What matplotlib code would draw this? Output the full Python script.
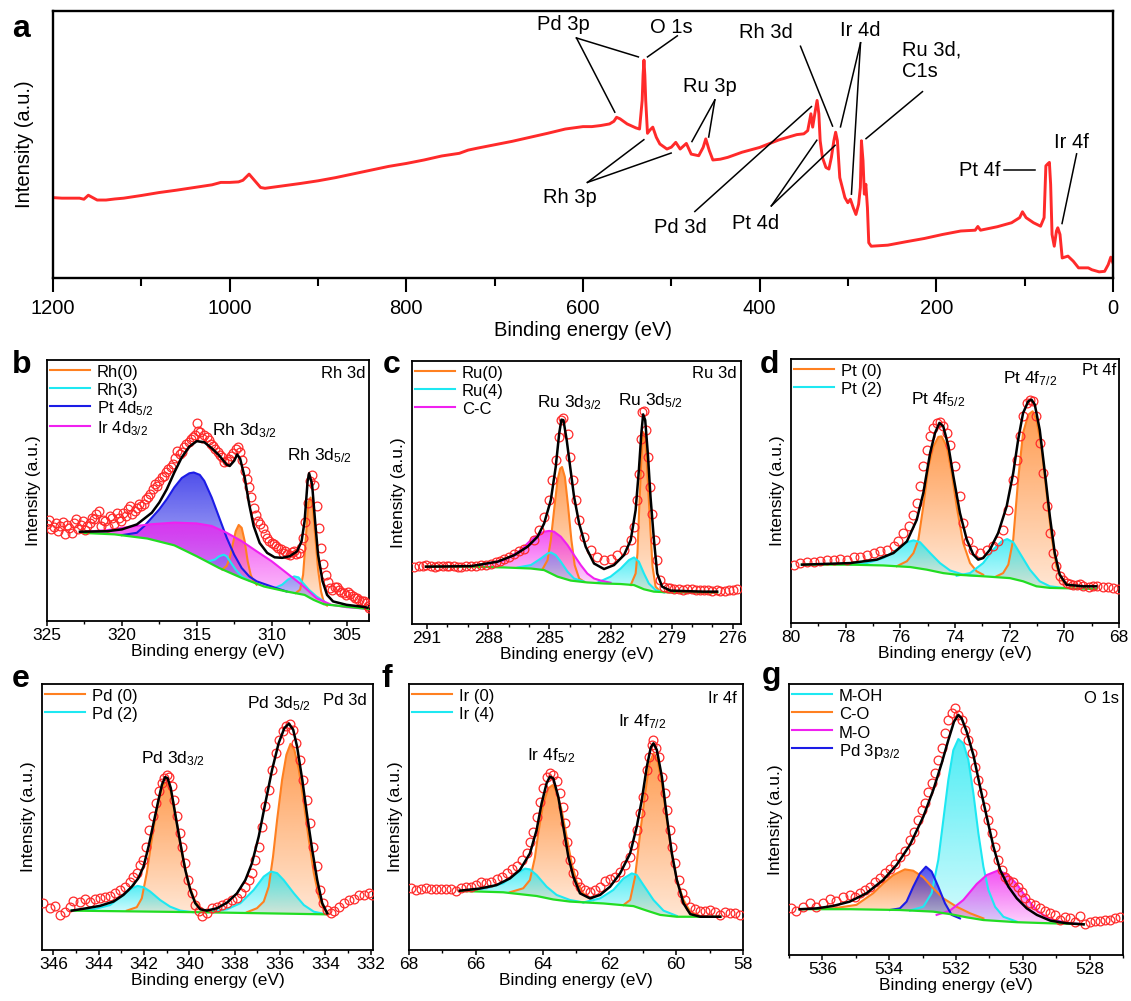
import numpy as np
import matplotlib
matplotlib.use('Agg')
import matplotlib.pyplot as plt
from matplotlib.patches import Polygon
from matplotlib.colors import to_rgb
from matplotlib.ticker import MultipleLocator

plt.rcParams['font.family'] = ['Liberation Sans', 'DejaVu Sans']
plt.rcParams['mathtext.default'] = 'regular'

# ---------------- Panel a: survey spectrum (binding energy eV, intensity a.u.) ----------------
a_survey = [(1200, 30.1), (1190, 29.9), (1180, 29.9), (1170, 29.9), (1165, 29.5), (1160, 31.0), (1155, 30.1),
            (1150, 29.2), (1140, 29.2), (1130, 29.6), (1120, 29.9), (1100, 30.9), (1080, 32.0), (1060, 32.9),
            (1040, 33.9), (1020, 34.9), (1010, 35.8), (1000, 35.8), (990, 36.0), (985, 36.6), (978, 38.9),
            (970, 35.8), (965, 33.9), (960, 33.6), (940, 34.5), (920, 35.4), (900, 36.4), (880, 37.6),
            (860, 39.0), (840, 40.4), (820, 41.8), (800, 42.9), (780, 44.2), (760, 45.7), (740, 46.7),
            (730, 47.9), (720, 48.6), (700, 49.9), (680, 51.2), (660, 52.7), (640, 54.2), (620, 55.8),
            (600, 56.7), (590, 56.7), (580, 57.1), (570, 57.7), (565, 58.7), (562, 60.2), (558, 59.6),
            (550, 57.7), (540, 56.2), (536, 55.8), (533, 66.5), (532, 76.0), (531, 81.6), (530, 76.0),
            (529, 66.5), (527, 54.2), (524, 55.5), (521, 56.5), (517, 52.7), (513, 50.2), (505, 48.3),
            (500, 49.0), (495, 50.8), (490, 48.3), (483, 50.4), (477.5, 46.4), (469, 45.8), (464, 48.9),
            (461, 52.1), (457, 47.7), (453, 44.2), (444.5, 44.5), (436, 45.2), (420, 47.1), (400, 48.9),
            (378.5, 51.7), (358, 53.7), (350, 54.0), (345.6, 55.2), (342, 61.5), (340, 56.5), (337, 62.7),
            (335, 66.5), (333, 61.5), (331.5, 51.4), (329, 45.2), (325, 41.4), (321.6, 40.8), (318.8, 45.2),
            (316, 51.4), (314, 54.6), (312, 51.4), (309.3, 37.6), (306.5, 33.9), (303.5, 30.1), (300.2, 28.2),
            (297.3, 29.5), (294, 26.3), (291, 23.8), (288, 27.6), (286, 33.9), (284.8, 51.4), (283, 43.9),
            (281.5, 31.4), (279.8, 35.1), (278, 26.3), (276.5, 13.2), (273.7, 11.9), (255, 12.3), (234, 13.6),
            (213.6, 14.8), (193, 16.3), (172.4, 17.6), (156, 17.9), (153, 19.3), (150, 17.9), (131, 19.2),
            (114.8, 20.7), (105.7, 22.6), (102.5, 24.8), (98.4, 22.6), (90, 20.7), (82, 19.4), (78, 22.6),
            (76, 42.0), (74, 42.7), (72, 43.3), (70.6, 35.1), (69, 16.3), (66.5, 11.9), (64, 17.6),
            (62.5, 18.8), (60, 16.3), (57.5, 7.5), (51, 8.2), (45, 6.3), (39, 3.8), (28, 3.8), (24, 3.1),
            (15.7, 2.3), (9.5, 2.5), (5.4, 5.0), (2.5, 7.8), (0, 5.6)]

a_tags = ['Pd 3p', 'O 1s', 'Ru 3p', 'Rh 3p', 'Pd 3d', 'Pt 4d', 'Rh 3d', 'Ir 4d', 'Ru 3d,\nC1s', 'Pt 4f', 'Ir 4f']
a_tag_x = [622, 500, 456, 615, 490, 404.5, 393, 285.8, 238.4, 127.8, 46.6]
a_tag_y = [95.0, 93.7, 71.7, 30.2, 18.9, 20.4, 91.8, 92.8, 81.3, 40.3, 50.6]
a_tag_ha = ['center', 'center', 'center', 'center', 'center', 'center', 'center', 'center', 'left', 'right', 'center']
a_leaders = [(607.4, 89.9, 537.3, 82.8), (607.4, 89.9, 564, 62.1), (493.2, 90.7, 527, 82.8),
             (450.7, 66.7, 476.7, 51.1), (450.7, 66.7, 457.7, 52.8), (595, 35.8, 531.1, 51.8),
             (595, 35.8, 500.2, 46.8), (473.4, 24.9, 341.4, 64.2), (386.8, 27.0, 335.3, 51.6),
             (386.8, 27.0, 314.6, 49.7), (353.8, 86.8, 317.5, 56.9), (285.8, 88.1, 308.5, 56.6),
             (285.8, 88.1, 296.1, 31.4), (215.7, 69.8, 279.6, 52.2), (123.7, 40.3, 87.8, 40.3),
             (41.2, 46.5, 57.7, 20.4)]

# ---------------- Panel b: Rh 3d ----------------
b_points = [(325.0, 37.0), (324.7, 35.1), (324.4, 37.7), (324.1, 36.4), (323.8, 33.2), (323.5, 35.7), (323.2, 37.7),
            (322.9, 35.1), (322.6, 38.3), (322.3, 36.4), (322.0, 39.6), (321.7, 40.9), (321.4, 36.4), (321.1, 38.3),
            (320.8, 40.2), (320.5, 37.0), (320.2, 39.6), (319.9, 41.5), (319.6, 42.8), (319.3, 40.9), (319.0, 43.4),
            (318.7, 44.1), (318.4, 46.7), (318.1, 48.6), (317.8, 52.4), (317.5, 53.7), (317.2, 55.7), (316.9, 58.2),
            (316.6, 60.2), (316.3, 65.3), (316.0, 64.7), (315.7, 67.9), (315.4, 69.8), (315.1, 71.1), (315.0, 75.8),
            (314.8, 72.4), (314.5, 71.1), (314.2, 69.2), (313.9, 67.2), (313.6, 64.7), (313.3, 62.7), (313.0, 61.4),
            (312.7, 63.2), (312.4, 65.9), (312.1, 64.7), (311.8, 57.6), (311.5, 51.2), (311.2, 43.4), (310.9, 38.3),
            (310.6, 35.7), (310.3, 31.9), (310.0, 29.9), (309.7, 28.7), (309.4, 27.4), (309.1, 26.7), (308.8, 25.4),
            (308.5, 26.7), (308.2, 26.1), (307.9, 31.9), (307.6, 45.4), (307.3, 56.0), (307.0, 44.1), (306.7, 28.0),
            (306.4, 17.7), (306.1, 12.6), (305.8, 13.2), (305.5, 12.0), (305.2, 10.7), (304.9, 11.3), (304.6, 9.4),
            (304.3, 8.7), (304.0, 7.5), (303.7, 6.8), (303.5, 4.9),
            (324.85, 38.6), (324.55, 36.0), (324.25, 34.5), (323.95, 38.0), (323.65, 36.8), (323.35, 33.9),
            (323.05, 38.9), (322.75, 36.6), (322.45, 34.8), (322.15, 37.4), (321.85, 39.0), (321.55, 42.0),
            (321.25, 38.8), (320.95, 36.2), (320.65, 39.5), (320.35, 41.2), (320.05, 38.4), (319.75, 40.3),
            (319.45, 43.9), (319.15, 42.0), (318.85, 45.0), (318.55, 44.9), (318.25, 47.5), (317.95, 50.5),
            (317.65, 51.6), (317.35, 55.0), (317.05, 57.0), (316.75, 59.0), (316.45, 62.5), (316.15, 63.8),
            (315.85, 66.5), (315.55, 68.6), (315.25, 70.5), (314.95, 72.9), (314.65, 70.2), (314.35, 70.5),
            (314.05, 67.9), (313.75, 66.0), (313.45, 63.5), (313.15, 61.0), (312.85, 62.0), (312.55, 64.5),
            (312.25, 66.8), (311.95, 61.8), (311.65, 54.5), (311.35, 47.5), (311.05, 40.5), (310.75, 37.0),
            (310.45, 33.5), (310.15, 30.8), (309.85, 29.5), (309.55, 27.9), (309.25, 26.0), (308.95, 25.8),
            (308.65, 26.4), (308.35, 25.7), (308.05, 28.0), (307.75, 38.0), (307.45, 53.5), (307.15, 52.0),
            (306.85, 35.5), (306.55, 22.0), (306.25, 15.0), (305.95, 12.0), (305.65, 12.9), (305.35, 11.1),
            (305.05, 10.0), (304.75, 10.5), (304.45, 9.0), (304.15, 8.0), (303.85, 7.8), (303.6, 5.6)]
b_fit = [(322.8, 34.2), (321.0, 34.4), (320.0, 35.1), (319.0, 37.0), (318.0, 41.5), (317.5, 45.4), (317.0, 50.5),
         (316.5, 56.9), (316.0, 62.7), (315.5, 66.8), (315.0, 68.9), (314.5, 68.5), (314.0, 66.2), (313.5, 63.4),
         (313.0, 59.9), (312.8, 59.4), (312.5, 61.4), (312.3, 63.8), (312.1, 62.1), (311.8, 55.0), (311.5, 44.7),
         (311.2, 36.4), (310.8, 29.9), (310.3, 26.1), (309.8, 24.4), (309.3, 24.2), (308.8, 24.8), (308.3, 26.7),
         (308.0, 30.6), (307.8, 38.3), (307.6, 53.5), (307.5, 56.6), (307.3, 52.4), (307.1, 38.3), (306.9, 25.4),
         (306.6, 15.2), (306.3, 10.0), (305.9, 7.5), (305.0, 6.2), (304.0, 5.5), (303.6, 5.1)]
b_base = [(322.8, 33.8), (320.5, 33.2), (318.3, 31.6), (316.5, 29.0), (315.0, 24.8), (313.5, 20.3), (312.0, 16.5),
          (310.5, 13.2), (309.0, 11.3), (307.8, 10.0), (307.2, 8.1), (306.5, 6.4), (305.0, 5.5), (303.5, 4.6)]
b_ir4d = [(322.8, 34.1), (321.0, 34.8), (319.5, 36.1), (318.0, 37.1), (316.5, 37.7), (315.0, 37.4), (314.0, 36.4),
          (313.0, 33.8), (312.0, 30.6), (311.0, 26.7), (310.0, 22.9), (309.0, 18.4), (308.0, 13.9), (307.0, 8.7),
          (306.0, 6.2), (305.0, 5.3), (303.5, 4.6)]
b_pt4d = [(320.0, 32.9), (319.0, 33.8), (318.5, 36.4), (318.0, 39.6), (317.5, 42.8), (317.0, 46.7), (316.5, 51.2),
          (316.0, 54.8), (315.5, 56.6), (315.2, 56.9), (314.8, 56.0), (314.5, 53.7), (314.0, 47.3), (313.5, 39.6),
          (313.0, 31.9), (312.5, 25.4), (312.0, 20.3), (311.5, 17.1), (311.0, 15.2), (310.0, 13.2), (309.0, 11.3)]
b_rh3_a = [(314.2, 22.9), (313.8, 23.5), (313.5, 24.8), (313.2, 25.4), (313.0, 24.8), (312.7, 22.2), (312.4, 19.7),
           (312.0, 17.1), (311.5, 15.5)]
b_rh3_b = [(309.8, 12.6), (309.3, 13.9), (308.9, 15.9), (308.5, 17.1), (308.2, 16.7), (307.9, 14.5), (307.5, 11.9),
           (307.0, 9.4), (306.5, 7.5)]
b_rh0_a = [(313.3, 19.7), (313.0, 21.1), (312.8, 24.2), (312.6, 29.3), (312.4, 34.4), (312.2, 36.8), (312.0, 35.7),
           (311.8, 30.6), (311.6, 22.9), (311.4, 17.7), (311.2, 15.2), (311.0, 13.9)]
b_rh0_b = [(308.4, 10.7), (308.1, 12.0), (307.9, 17.7), (307.7, 33.2), (307.55, 45.4), (307.4, 47.3), (307.25, 43.4),
           (307.1, 33.2), (306.9, 19.7), (306.7, 11.3), (306.5, 6.8), (306.3, 5.9)]

# ---------------- Panel c: Ru 3d ----------------
c_points = [(291.62, 21.8), (291.4, 21.9), (291.2, 22.1), (291.05, 22.3), (290.8, 22.0), (290.6, 21.7), (290.48, 22.0),
            (290.2, 22.2), (290.0, 21.9), (289.91, 22.0), (289.7, 22.1), (289.5, 21.8), (289.33, 21.6), (289.1, 22.2),
            (288.85, 22.0), (288.6, 22.1), (288.36, 22.4), (288.1, 22.6), (287.87, 23.0), (287.6, 23.5), (287.4, 24.0),
            (287.21, 24.6), (287.0, 25.3), (286.72, 26.8), (286.5, 27.6), (286.23, 28.7), (285.75, 31.9), (285.50, 35.7),
            (285.26, 40.8), (285.01, 47.1), (284.85, 54.7), (284.69, 62.3), (284.55, 71.1), (284.44, 77.5), (284.31, 78.5),
            (284.11, 72.4), (283.98, 63.5), (283.85, 54.7), (283.71, 47.1), (283.54, 39.5), (283.30, 33.2), (282.97, 28.1),
            (282.65, 25.6), (282.32, 24.3), (282.00, 24.9), (281.67, 26.2), (281.34, 28.1), (281.01, 31.9), (280.85, 37.0),
            (280.68, 47.1), (280.61, 57.2), (280.52, 70.5), (280.44, 80.6), (280.36, 81.0), (280.26, 73.7), (280.17, 63.5),
            (280.07, 52.2), (279.95, 42.0), (279.84, 31.9), (279.71, 24.3), (279.55, 16.7), (279.38, 14.2), (279.2, 13.8),
            (279.06, 13.5), (278.9, 13.4), (278.65, 13.2), (278.45, 13.1), (278.24, 13.4), (278.0, 13.3), (277.83, 12.9),
            (277.6, 13.0), (277.43, 12.9), (277.2, 12.8), (277.02, 12.7), (276.8, 12.9), (276.61, 12.7), (276.4, 12.6),
            (276.20, 12.9), (276.0, 13.0), (275.79, 13.2)]
c_fit = [(291.05, 21.8), (288.85, 22.0), (287.54, 23.7), (286.72, 26.2), (286.07, 29.4), (285.58, 33.2), (285.26, 38.2),
         (284.93, 47.1), (284.69, 59.7), (284.52, 72.4), (284.41, 77.7), (284.31, 77.5), (284.15, 69.9), (283.98, 59.7),
         (283.79, 48.4), (283.54, 38.2), (283.22, 29.4), (282.81, 23.0), (282.32, 20.9), (281.83, 22.4), (281.34, 26.2),
         (281.01, 31.9), (280.77, 43.3), (280.61, 58.5), (280.49, 72.4), (280.40, 79.7), (280.30, 77.5), (280.17, 64.8),
         (280.04, 48.4), (279.87, 31.9), (279.71, 19.2), (279.47, 14.2), (279.06, 12.7), (277.43, 12.3), (276.77, 12.3)]
c_base = [(291.05, 21.8), (288.85, 21.8), (287.21, 21.5), (285.91, 21.1), (285.26, 20.5), (284.60, 18.0), (283.95, 16.5),
          (283.14, 15.8), (282.32, 15.4), (281.50, 15.2), (280.85, 14.8), (280.36, 13.2), (279.87, 12.3), (279.06, 12.0),
          (276.77, 11.9)]
c_cc = [(288.85, 21.8), (287.21, 24.3), (286.40, 28.1), (285.91, 31.9), (285.58, 33.8), (285.26, 35.1), (285.01, 35.4),
        (284.77, 35.1), (284.44, 33.2), (284.11, 30.0), (283.79, 26.2), (283.46, 22.4), (283.14, 19.2), (282.81, 17.3),
        (282.48, 16.5), (282.00, 15.7)]
c_ru0_a = [(285.34, 20.8), (285.09, 24.3), (284.93, 31.9), (284.77, 43.3), (284.60, 54.7), (284.47, 59.1), (284.38, 59.7),
           (284.24, 55.9), (284.08, 44.6), (283.92, 31.9), (283.76, 22.4), (283.54, 17.3), (283.30, 16.1)]
c_ru0_b = [(281.01, 14.8), (280.77, 19.2), (280.68, 26.8), (280.59, 44.6), (280.49, 62.3), (280.40, 73.0), (280.30, 71.1),
           (280.20, 58.5), (280.07, 39.5), (279.94, 21.8), (279.79, 14.2), (279.55, 12.3)]
c_ru4_a = [(286.56, 21.5), (285.91, 22.4), (285.42, 24.9), (285.09, 26.8), (284.93, 27.2), (284.69, 26.2), (284.44, 23.7),
           (284.11, 19.9), (283.79, 17.3), (283.30, 16.1)]
c_ru4_b = [(282.65, 15.7), (282.00, 18.0), (281.50, 21.1), (281.10, 24.3), (280.85, 25.3), (280.61, 23.7), (280.36, 19.2),
           (280.12, 15.4), (279.79, 12.9), (279.38, 12.0)]

# ---------------- Panel d: Pt 4f ----------------
d_points = [(79.90, 22.1), (79.66, 22.7), (79.42, 23.0), (79.17, 23.1), (78.93, 23.4), (78.69, 23.7), (78.44, 24.0),
            (78.20, 24.2), (77.96, 24.0), (77.71, 25.0), (77.47, 25.0), (77.23, 25.9), (76.98, 26.5), (76.74, 27.1),
            (76.50, 27.8), (76.25, 29.0), (76.07, 30.9), (75.89, 34.1), (75.70, 36.6), (75.52, 41.0), (75.40, 45.5),
            (75.28, 51.8), (75.16, 59.3), (75.03, 65.7), (74.91, 70.7), (74.79, 73.9), (74.67, 75.8), (74.55, 76.0),
            (74.43, 74.5), (74.30, 72.0), (74.18, 67.6), (74.00, 59.3), (73.82, 48.0), (73.70, 37.9), (73.51, 30.9),
            (73.33, 27.8), (73.09, 26.5), (72.84, 27.8), (72.60, 29.0), (72.42, 30.9), (72.24, 35.4), (72.05, 42.9),
            (71.87, 54.3), (71.75, 61.9), (71.63, 70.7), (71.51, 78.3), (71.38, 83.3), (71.26, 84.6), (71.14, 84.0),
            (71.02, 78.3), (70.90, 68.2), (70.78, 56.8), (70.65, 44.2), (70.53, 34.1), (70.41, 26.5), (70.29, 21.5),
            (70.17, 17.7), (70.05, 16.2), (69.92, 15.2), (69.80, 14.8), (69.68, 14.5), (69.55, 14.3), (69.43, 14.6),
            (69.31, 14.1), (69.10, 13.8), (68.95, 13.9), (68.80, 14.0), (68.58, 13.5), (68.40, 13.6), (68.22, 13.3),
            (68.04, 12.9)]
d_fit = [(79.60, 22.1), (77.83, 22.7), (76.86, 24.0), (76.25, 26.5), (75.76, 30.9), (75.40, 39.1), (75.16, 49.2),
         (74.91, 64.4), (74.73, 72.0), (74.57, 75.8), (74.43, 74.5), (74.24, 66.9), (74.06, 55.6), (73.82, 41.7),
         (73.57, 31.6), (73.33, 25.9), (73.15, 24.0), (72.97, 24.6), (72.72, 27.8), (72.42, 34.1), (72.11, 44.2),
         (71.87, 56.8), (71.69, 69.4), (71.51, 79.5), (71.32, 84.0), (71.20, 84.6), (71.08, 82.7), (70.90, 73.2),
         (70.71, 56.8), (70.53, 40.4), (70.35, 26.5), (70.17, 18.3), (69.92, 14.5), (69.31, 13.9), (68.83, 13.9)]
d_base = [(79.60, 22.1), (77.83, 22.1), (76.62, 21.8), (75.64, 21.2), (75.03, 20.2), (74.43, 18.9), (73.94, 18.3),
          (72.97, 17.7), (71.99, 17.0), (71.51, 15.8), (71.02, 13.9), (70.53, 13.3), (68.83, 12.9)]
d_pt2_a = [(77.83, 22.1), (77.23, 22.7), (76.62, 24.6), (76.13, 27.8), (75.76, 30.6), (75.52, 31.3), (75.28, 30.6),
           (74.91, 26.5), (74.55, 22.7), (74.18, 19.9), (73.70, 18.3), (73.21, 17.9)]
d_pt2_b = [(73.94, 17.9), (73.45, 18.9), (72.97, 22.7), (72.60, 27.8), (72.30, 30.9), (72.09, 31.8), (71.87, 30.6),
           (71.63, 26.5), (71.26, 20.2), (70.90, 15.8), (70.53, 13.9), (70.05, 13.3)]
d_pt0_a = [(76.13, 21.5), (75.76, 23.4), (75.52, 26.5), (75.34, 31.6), (75.16, 44.2), (74.97, 59.3), (74.79, 66.9),
           (74.61, 70.5), (74.49, 70.7), (74.30, 66.9), (74.12, 56.8), (73.94, 44.2), (73.70, 30.3), (73.45, 22.7),
           (73.21, 19.6), (72.97, 18.3)]
d_pt0_b = [(72.48, 17.7), (72.24, 18.9), (72.05, 22.1), (71.87, 31.6), (71.69, 54.3), (71.51, 72.0), (71.32, 78.9),
           (71.16, 80.2), (71.02, 77.0), (70.84, 66.9), (70.65, 49.2), (70.47, 32.8), (70.29, 21.5), (70.05, 15.8),
           (69.68, 13.6)]

# ---------------- Panel e: Pd 3d ----------------
e_points = [(346.45, 17.6), (346.15, 15.7), (345.93, 16.6), (345.71, 13.2), (345.49, 14.4), (345.27, 16.3), (345.12, 18.6),
            (344.82, 18.2), (344.60, 19.1), (344.38, 18.2), (344.16, 19.1), (343.94, 19.4), (343.72, 19.8), (343.50, 20.3),
            (343.28, 21.3), (343.06, 22.6), (342.84, 23.6), (342.61, 25.7), (342.47, 27.6), (342.32, 28.9), (342.17, 32.0),
            (342.05, 33.9), (341.91, 38.9), (341.76, 45.2), (341.61, 50.2), (341.46, 55.2), (341.32, 59.6), (341.21, 62.7),
            (341.11, 64.6), (340.99, 65.9), (340.88, 65.2), (340.77, 61.5), (340.67, 56.5), (340.55, 50.2), (340.43, 43.9),
            (340.33, 38.9), (340.18, 32.6), (340.04, 26.3), (339.89, 21.3), (339.74, 16.9), (339.59, 14.8), (339.45, 12.8),
            (339.23, 13.8), (339.00, 15.7), (338.78, 16.3), (338.56, 16.9), (338.34, 17.8), (338.12, 18.8), (337.90, 19.4),
            (337.72, 21.3), (337.53, 23.8), (337.38, 26.3), (337.24, 28.9), (337.09, 33.9), (336.94, 38.9), (336.79, 46.4),
            (336.65, 54.0), (336.50, 60.2), (336.35, 67.8), (336.20, 74.0), (336.06, 79.0), (335.87, 82.2), (335.72, 84.1),
            (335.57, 85.1), (335.42, 82.8), (335.28, 77.8), (335.13, 71.5), (334.98, 64.0), (334.83, 56.5), (334.69, 47.7),
            (334.54, 38.9), (334.39, 31.4), (334.24, 22.6), (334.10, 17.6), (333.95, 15.1), (333.77, 13.8), (333.63, 14.8),
            (333.40, 16.1), (333.18, 17.6), (332.96, 18.8), (332.74, 19.1), (332.52, 20.7), (332.30, 20.7), (332.08, 21.3),
            (331.93, 20.7)]
e_fit = [(345.19, 14.8), (344.53, 15.7), (343.94, 16.6), (343.35, 18.2), (342.91, 20.7), (342.54, 23.8), (342.25, 27.0),
         (342.02, 31.4), (341.80, 38.9), (341.58, 47.7), (341.36, 56.5), (341.21, 62.1), (341.07, 65.0), (340.96, 64.6),
         (340.82, 60.9), (340.63, 51.4), (340.40, 40.2), (340.18, 30.1), (339.96, 22.6), (339.74, 17.6), (339.52, 15.3),
         (339.23, 14.8), (338.78, 15.7), (338.34, 17.8), (337.90, 21.3), (337.53, 26.3), (337.24, 32.6), (336.94, 42.7),
         (336.65, 55.2), (336.35, 67.8), (336.06, 77.8), (335.81, 83.4), (335.61, 85.1), (335.42, 82.8), (335.25, 76.5),
         (335.02, 64.0), (334.80, 50.2), (334.58, 37.6), (334.36, 26.3), (334.14, 17.6), (333.92, 13.8)]
e_base = [(345.19, 14.8), (339.52, 14.2), (333.92, 13.4)]
e_pd2_a = [(345.19, 14.8), (344.24, 15.3), (343.50, 16.9), (342.91, 20.7), (342.54, 23.2), (342.29, 24.1), (342.02, 23.6),
           (341.73, 22.0), (341.29, 18.8), (340.85, 16.3), (340.40, 14.8), (339.81, 14.2)]
e_pd2_b = [(339.23, 14.2), (338.34, 15.3), (337.75, 17.6), (337.16, 22.6), (336.72, 27.6), (336.40, 29.5), (336.13, 28.9),
           (335.84, 26.3), (335.39, 21.3), (334.95, 16.9), (334.51, 14.4), (334.07, 13.6)]
e_pd0_a = [(342.76, 14.8), (342.32, 16.1), (342.10, 19.4), (341.88, 28.9), (341.66, 41.4), (341.44, 52.7), (341.25, 60.2),
           (341.07, 63.0), (340.92, 62.1), (340.73, 56.5), (340.52, 46.4), (340.29, 35.1), (340.04, 25.1), (339.74, 18.2),
           (339.45, 15.3), (339.08, 14.4)]
e_pd0_b = [(337.46, 14.2), (337.02, 15.7), (336.72, 18.2), (336.50, 23.8), (336.31, 35.1), (336.13, 48.9), (335.91, 64.0),
           (335.72, 73.4), (335.54, 77.5), (335.37, 75.3), (335.17, 67.8), (334.95, 55.2), (334.73, 41.4), (334.51, 28.9),
           (334.29, 20.1), (334.07, 15.3), (333.85, 13.6)]

# ---------------- Panel f: Ir 4f ----------------
f_points = [(67.93, 23.2), (67.78, 22.6), (67.63, 22.8), (67.48, 23.2), (67.33, 22.8), (67.18, 23.1), (67.03, 22.8),
            (66.88, 22.8), (66.73, 22.8), (66.58, 22.3), (66.43, 23.2), (66.28, 23.6), (66.13, 23.6), (65.98, 24.4),
            (65.83, 25.7), (65.68, 25.1), (65.53, 25.7), (65.38, 26.6), (65.23, 27.6), (65.08, 28.8), (64.93, 30.3),
            (64.78, 31.6), (64.63, 33.8), (64.48, 36.3), (64.38, 40.7), (64.28, 44.5), (64.18, 50.1), (64.08, 55.8),
            (63.98, 60.8), (63.88, 65.2), (63.78, 66.4), (63.68, 65.8), (63.58, 63.7), (63.48, 58.9), (63.40, 53.9),
            (63.33, 47.6), (63.26, 40.7), (63.18, 33.8), (63.08, 28.8), (62.98, 25.7), (62.88, 23.8), (62.73, 22.6),
            (62.58, 21.9), (62.43, 22.6), (62.28, 23.8), (62.13, 26.1), (61.98, 26.6), (61.83, 27.6), (61.68, 29.4),
            (61.53, 32.0), (61.38, 35.1), (61.28, 39.5), (61.18, 45.1), (61.08, 51.4), (60.98, 57.6), (60.88, 67.7),
            (60.80, 72.7), (60.73, 77.1), (60.68, 78.9), (60.60, 75.8), (60.52, 72.7), (60.43, 65.2), (60.35, 58.9),
            (60.28, 52.6), (60.20, 45.1), (60.12, 38.8), (60.03, 32.6), (59.93, 26.3), (59.83, 21.3), (59.73, 18.8),
            (59.58, 16.0), (59.43, 15.3), (59.28, 14.8), (59.13, 14.8), (58.98, 15.0), (58.83, 14.4), (58.68, 13.2),
            (58.53, 14.4), (58.38, 14.0), (58.23, 13.8), (58.08, 13.2)]
f_fit = [(66.48, 22.3), (65.88, 23.1), (65.38, 24.4), (64.98, 26.9), (64.68, 30.1), (64.38, 36.3), (64.18, 45.1),
         (64.03, 55.1), (63.88, 62.7), (63.78, 65.2), (63.68, 64.5), (63.53, 57.6), (63.38, 46.4), (63.23, 35.1),
         (63.08, 27.6), (62.88, 21.3), (62.58, 19.4), (62.28, 20.7), (61.98, 23.8), (61.68, 28.8), (61.38, 36.3),
         (61.18, 46.4), (61.03, 56.4), (60.88, 68.9), (60.76, 76.2), (60.68, 77.7), (60.58, 75.2), (60.43, 65.2),
         (60.28, 50.1), (60.13, 36.3), (59.98, 26.3), (59.78, 17.5), (59.58, 13.5), (59.28, 12.5), (58.68, 12.5)]
f_base = [(66.48, 22.2), (65.18, 21.7), (64.18, 20.3), (63.68, 19.0), (63.18, 18.2), (62.18, 17.5), (61.28, 16.5),
          (60.88, 14.8), (60.48, 13.2), (59.98, 12.5), (58.68, 12.5)]
f_ir4_a = [(66.48, 22.2), (65.68, 23.2), (65.18, 25.1), (64.78, 28.8), (64.53, 30.6), (64.38, 30.3), (64.18, 28.2),
           (63.88, 23.8), (63.58, 20.7), (63.18, 18.8), (62.78, 17.9)]
f_ir4_b = [(62.78, 17.9), (62.28, 19.4), (61.88, 22.6), (61.58, 26.9), (61.33, 28.8), (61.18, 28.2), (60.98, 24.4),
           (60.68, 18.8), (60.38, 14.8), (59.98, 12.8)]
f_ir0_a = [(64.98, 21.7), (64.58, 23.2), (64.38, 26.3), (64.23, 34.8), (64.13, 43.9), (63.98, 55.1), (63.83, 60.8),
           (63.70, 62.0), (63.58, 59.5), (63.43, 52.6), (63.28, 42.6), (63.13, 32.6), (62.98, 25.7), (62.78, 21.3),
           (62.48, 18.8)]
f_ir0_b = [(61.58, 16.9), (61.38, 18.8), (61.23, 27.6), (61.08, 43.9), (60.93, 58.9), (60.80, 70.2), (60.68, 73.9),
           (60.56, 71.4), (60.43, 62.7), (60.28, 48.9), (60.13, 36.3), (59.98, 26.3), (59.78, 18.8), (59.58, 14.4),
           (59.28, 12.8)]

# ---------------- Panel g: O 1s ----------------
g_points = [(536.93, 17.2), (536.78, 16.4), (536.58, 17.6), (536.38, 19.1), (536.18, 17.8), (535.98, 19.3), (535.78, 20.5),
            (535.58, 20.0), (535.38, 21.3), (535.18, 22.1), (535.03, 21.5), (534.88, 22.8), (534.73, 24.0), (534.58, 25.2),
            (534.43, 27.1), (534.28, 28.3), (534.13, 30.1), (533.98, 31.6), (533.83, 33.6), (533.68, 36.3), (533.53, 38.5),
            (533.38, 42.4), (533.26, 45.5), (533.13, 49.8), (533.03, 53.5), (532.93, 56.0), (532.83, 60.3), (532.73, 63.3),
            (532.63, 67.0), (532.53, 72.0), (532.43, 76.3), (532.33, 81.8), (532.23, 86.7), (532.13, 89.2), (532.03, 91.0),
            (531.93, 88.6), (531.83, 86.7), (531.73, 83.0), (531.63, 79.3), (531.53, 74.4), (531.43, 69.5), (531.33, 64.6),
            (531.23, 59.7), (531.13, 54.7), (531.03, 49.8), (530.93, 44.9), (530.83, 40.0), (530.73, 35.1), (530.63, 31.4),
            (530.53, 28.9), (530.43, 27.7), (530.28, 27.1), (530.13, 25.2), (530.03, 23.4), (529.93, 20.9), (529.78, 19.1),
            (529.63, 18.5), (529.48, 17.2), (529.33, 16.4), (529.18, 15.4), (529.03, 14.8), (528.88, 12.9), (528.73, 14.1),
            (528.58, 13.5), (528.43, 12.3), (528.28, 14.4), (528.13, 11.4), (527.98, 12.3), (527.83, 12.5), (527.68, 12.7),
            (527.53, 12.9), (527.38, 12.9), (527.23, 13.5), (527.08, 13.9)]
g_fit = [(536.68, 16.9), (536.18, 17.2), (535.68, 18.1), (535.18, 19.7), (534.68, 22.8), (534.18, 27.7), (533.78, 33.2),
         (533.38, 40.6), (532.98, 51.0), (532.68, 60.9), (532.43, 70.7), (532.23, 79.3), (532.06, 86.1), (531.93, 88.6),
         (531.83, 87.3), (531.68, 82.4), (531.48, 73.8), (531.28, 62.1), (531.08, 51.0), (530.88, 40.0), (530.68, 31.4),
         (530.43, 25.2), (530.18, 20.9), (529.88, 17.2), (529.58, 14.8), (529.18, 12.7), (528.68, 11.7), (528.18, 11.3)]
g_base = [(536.68, 16.9), (535.18, 16.9), (533.68, 16.6), (532.68, 16.0), (532.18, 15.1), (531.68, 13.9), (531.18, 12.9),
          (530.18, 12.1), (529.18, 11.7), (528.18, 11.4)]
g_co = [(536.68, 16.9), (535.68, 17.2), (534.98, 18.5), (534.48, 22.8), (534.18, 26.4), (533.88, 29.5), (533.53, 31.6),
        (533.28, 31.1), (532.98, 28.7), (532.68, 24.6), (532.38, 20.9), (531.98, 17.8), (531.58, 15.4), (531.18, 13.5)]
g_pd3p = [(533.98, 16.6), (533.68, 17.2), (533.48, 19.7), (533.28, 25.2), (533.08, 30.1), (532.90, 32.6), (532.73, 30.8),
          (532.53, 25.2), (532.33, 19.1), (532.13, 14.8), (531.88, 13.5)]
g_moh = [(533.38, 16.4), (532.98, 17.8), (532.73, 22.8), (532.53, 35.1), (532.38, 49.8), (532.23, 64.6), (532.08, 75.6),
         (531.93, 79.7), (531.78, 78.1), (531.63, 72.0), (531.48, 59.7), (531.33, 44.9), (531.18, 32.6), (531.03, 24.0),
         (530.83, 17.8), (530.58, 14.1), (530.18, 12.3)]
g_mo = [(532.58, 14.8), (532.18, 16.4), (531.78, 20.3), (531.38, 26.2), (531.08, 29.5), (530.76, 31.1), (530.48, 29.9),
        (530.18, 26.2), (529.88, 20.9), (529.58, 16.4), (529.18, 13.2), (528.68, 11.9), (528.18, 11.4)]

# ---------------- styling ----------------
ORANGE = '#ff8020'
CYAN = '#1ee8f2'
BLUE = '#1c1ce6'
MAGENTA = '#f020f0'
GREEN = '#22dd22'
RED = '#ff2a2a'

W, H = 1131, 1001
fig = plt.figure(figsize=(W / 100, H / 100), dpi=100)


def add_ax(l, t, r, b):
    return fig.add_axes([l / W, 1 - b / H, (r - l) / W, (b - t) / H])


def xy(series):
    return [p[0] for p in series], [p[1] for p in series]


def grad_fill(ax, comp, base, color, z):
    cx, cy = xy(comp)
    x_lo, x_hi = min(cx), max(cx)
    inner = [p for p in base if x_lo < p[0] < x_hi]
    verts = list(comp) + inner[::-1]
    poly = Polygon(verts, closed=True, facecolor='none', edgecolor='none')
    ax.add_patch(poly)
    ylo = min(v[1] for v in verts)
    yhi = max(cy)
    n = 200
    img = np.zeros((n, 2, 4))
    img[..., :3] = to_rgb(color)
    img[..., 3] = np.linspace(0.2, 0.78, n)[:, None]
    im = ax.imshow(img, extent=(x_lo, x_hi, ylo, yhi), origin='lower', aspect='auto',
                   interpolation='bilinear', zorder=z)
    im.set_clip_path(poly)


def style_small(ax, xlim, major, minor):
    ax.set_xlim(*xlim)
    ax.set_ylim(0, 100)
    ax.set_yticks([])
    ax.xaxis.set_major_locator(MultipleLocator(major))
    ax.xaxis.set_minor_locator(MultipleLocator(minor))
    ax.tick_params(axis='x', which='major', direction='out', length=3.8, width=1.1, pad=1.2, labelsize=12.5)
    ax.tick_params(axis='x', which='minor', direction='out', length=2.2, width=1.0)
    for s in ax.spines.values():
        s.set_linewidth(1.3)
    ax.set_xlabel('Binding energy (eV)', fontsize=12.5, labelpad=0.5)
    ax.set_ylabel('Intensity (a.u.)', fontsize=12.5, labelpad=4.5)


def draw_panel(ax, points, fit, base, comps, xlim, major, minor, corner, peak_labels, letter, letter_pos):
    handles, labels = [], []
    for series_list, color, label in comps:
        first = None
        for s in series_list:
            grad_fill(ax, s, base, color, 1)
            sx, sy = xy(s)
            ln, = ax.plot(sx, sy, color=color, lw=1.5, zorder=2)
            if first is None:
                first = ln
        handles.append(first)
        labels.append(label)
    bx, by = xy(base)
    ax.plot(bx, by, color=GREEN, lw=1.6, zorder=3)
    px, py = xy(points)
    ax.plot(px, py, linestyle='none', marker='o', ms=6.3, mfc='none', mec=RED, mew=0.9, zorder=4)
    fx, fy = xy(fit)
    ax.plot(fx, fy, color='black', lw=1.8, zorder=5)
    style_small(ax, xlim, major, minor)
    ax.legend(handles, labels, loc='upper left', frameon=False, fontsize=12, handlelength=2.4,
              handleheight=1.3, handletextpad=0.45, labelspacing=0.0, borderaxespad=0.1, borderpad=0.05)
    ax.text(corner[1], corner[2], corner[0], transform=ax.transAxes, ha='right', va='center', fontsize=12)
    for txt, tx, ty in peak_labels:
        ax.text(tx, ty, txt, ha='center', va='baseline', fontsize=12.5)
    fig.text(letter_pos[0] / W, 1 - letter_pos[1] / H, letter, fontsize=23, fontweight='bold', va='baseline')


# ---------------- panel a ----------------
axa = add_ax(53, 11, 1113, 278)
sx, sy = xy(a_survey)
axa.plot(sx, sy, color=RED, lw=2.1)
for (x0, y0, x1, y1) in a_leaders:
    axa.plot([x0, x1], [y0, y1], color='black', lw=1.1)
for t, x, y, ha in zip(a_tags, a_tag_x, a_tag_y, a_tag_ha):
    axa.text(x, y, t, ha=ha, va='center', fontsize=14.5, linespacing=1.15)
axa.set_xlim(1200, 0)
axa.set_ylim(0, 100)
axa.set_yticks([])
axa.xaxis.set_major_locator(MultipleLocator(200))
axa.xaxis.set_minor_locator(MultipleLocator(100))
axa.tick_params(axis='x', which='major', direction='out', length=10, width=1.5, pad=5, labelsize=14.5)
axa.tick_params(axis='x', which='minor', direction='out', length=5.5, width=1.5)
for s in axa.spines.values():
    s.set_linewidth(1.7)
axa.set_xlabel('Binding energy (eV)', fontsize=14.5, labelpad=2)
axa.set_ylabel('Intensity (a.u.)', fontsize=14.5, labelpad=14)
fig.text(12 / W, 1 - 37 / H, 'a', fontsize=23, fontweight='bold', va='baseline')

# ---------------- panel b ----------------
axb = add_ax(47, 360, 369, 621)
draw_panel(axb, b_points, b_fit, b_base,
           [([b_rh0_a, b_rh0_b], ORANGE, 'Rh(0)'), ([b_rh3_a, b_rh3_b], CYAN, 'Rh(3)'),
            ([b_pt4d], BLUE, 'Pt 4d$_{5/2}$'), ([b_ir4d], MAGENTA, 'Ir 4d$_{3/2}$')],
           (325, 303.5), 5, 2.5, ('Rh 3d', 0.99, 0.949),
           [('Rh 3d$_{3/2}$', 311.8, 71.1), ('Rh 3d$_{5/2}$', 306.8, 61.4)], 'b', (12, 373))

# ---------------- panel c ----------------
axc = add_ax(412, 361, 741, 624)
draw_panel(axc, c_points, c_fit, c_base,
           [([c_ru0_a, c_ru0_b], ORANGE, 'Ru(0)'), ([c_ru4_a, c_ru4_b], CYAN, 'Ru(4)'), ([c_cc], MAGENTA, 'C-C')],
           (291.74, 275.6), 3, 1, ('Ru 3d', 0.988, 0.952),
           [('Ru 3d$_{3/2}$', 284.02, 82.5), ('Ru 3d$_{5/2}$', 280.03, 83.2)], 'c', (383, 373))

# ---------------- panel d ----------------
axd = add_ax(791, 359, 1119, 623)
draw_panel(axd, d_points, d_fit, d_base,
           [([d_pt0_a, d_pt0_b], ORANGE, 'Pt (0)'), ([d_pt2_a, d_pt2_b], CYAN, 'Pt (2)')],
           (80, 68), 2, 1, ('Pt 4f', 0.992, 0.957),
           [('Pt 4f$_{5/2}$', 74.62, 82.7), ('Pt 4f$_{7/2}$', 71.24, 90.7)], 'd', (760, 373))

# ---------------- panel e ----------------
axe = add_ax(42, 684, 373, 950)
draw_panel(axe, e_points, e_fit, e_base,
           [([e_pd0_a, e_pd0_b], ORANGE, 'Pd (0)'), ([e_pd2_a, e_pd2_b], CYAN, 'Pd (2)')],
           (346.5, 331.9), 2, 1, ('Pd 3d', 0.981, 0.937),
           [('Pd 3d$_{3/2}$', 340.74, 70.0), ('Pd 3d$_{5/2}$', 336.06, 91.0)], 'e', (12, 687))

# ---------------- panel f ----------------
axf = add_ax(409, 684, 743, 950)
draw_panel(axf, f_points, f_fit, f_base,
           [([f_ir0_a, f_ir0_b], ORANGE, 'Ir (0)'), ([f_ir4_a, f_ir4_b], CYAN, 'Ir (4)')],
           (68, 58), 2, 1, ('Ir 4f', 0.982, 0.946),
           [('Ir 4f$_{5/2}$', 63.73, 71.4), ('Ir 4f$_{7/2}$', 61.01, 84.0)], 'f', (382, 687))

# ---------------- panel g ----------------
axg = add_ax(789, 684, 1123, 955)
draw_panel(axg, g_points, g_fit, g_base,
           [([g_moh], CYAN, 'M-OH'), ([g_co], ORANGE, 'C-O'), ([g_mo], MAGENTA, 'M-O'),
            ([g_pd3p], BLUE, 'Pd 3p$_{3/2}$')],
           (537, 527), 2, 1, ('O 1s', 0.987, 0.947), [], 'g', (762, 684))

fig.savefig('out.png', dpi=100)
